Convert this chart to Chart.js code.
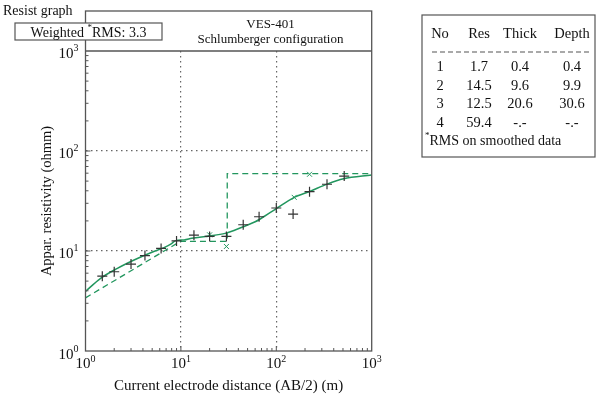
<!DOCTYPE html>
<html><head><meta charset="utf-8">
<script src="https://cdn.jsdelivr.net/npm/chart.js@4/dist/chart.umd.min.js"></script>
<style>html,body{margin:0;padding:0;background:#fff}canvas{display:block}</style>
</head><body>
<canvas id="c" width="600" height="396"></canvas>
<script>
// ---- data ----
const obsX = [1.5, 2, 3, 4.2, 6.2, 9, 13.7, 20, 30, 45, 66, 100, 150, 223, 340, 515];
const obsY = [5.6, 6.2, 7.4, 9.0, 10.6, 12.6, 14.4, 14.0, 14.0, 18.3, 22.0, 26.9, 23.4, 39.2, 46.5, 56.2];
const smoothX = [20, 30, 154, 223];
const smoothY = [14.5, 11.1, 34.4, 58.5];
const modelX = [1, 1.44, 2.16, 3.23, 4.83, 6.66, 7.83, 8.84, 10.8, 13.0, 19.4, 29.1, 37, 47.2, 60.1, 67.8, 101, 151, 227, 340, 507, 1000];
const modelY = [3.94, 5.33, 6.71, 8.13, 9.62, 10.8, 11.7, 12.7, 12.9, 13.4, 14.1, 15.0, 16.2, 17.8, 19.6, 20.9, 26.7, 34.0, 39.6, 46.6, 52.7, 57.5];
const layerX = [1, 9.9, 30.6, 30.6, 1000];
const layerY = [3.4, 12.5, 12.5, 59.4, 59.4];
const decadeTicks = [1, 10, 100, 1000];
const decadeExp = ['0', '1', '2', '3'];
const tableHeader = ['No', 'Res', 'Thick', 'Depth'];
const layerNo = ['1', '2', '3', '4'];
const layerRes = ['1.7', '14.5', '12.5', '59.4'];
const layerThick = ['0.4', '9.6', '20.6', '-.-'];
const layerDepth = ['0.4', '9.9', '30.6', '-.-'];
const titleLines = ['VES-401', 'Schlumberger configuration'];
const xTitle = 'Current electrode distance (AB/2) (m)';
const yTitle = 'Appar. resistivity (ohmm)';
const rmsValue = '3.3';

// ---- styles ----
const SERIF = '"Liberation Serif","DejaVu Serif",serif';
const GREEN = '#22965e';
const FRAME = '#555';

function segText(ctx, segs, x, y, size, align) {
  const supSize = Math.round(size * 0.66);
  let total = 0;
  const ws = segs.map(s => { ctx.font = (s.sup ? supSize : size) + 'px ' + SERIF; const w = ctx.measureText(s.t).width; total += w; return w; });
  let x0 = align === 'right' ? x - total : align === 'center' ? x - total / 2 : x;
  ctx.textAlign = 'left'; ctx.textBaseline = 'alphabetic';
  segs.forEach((s, i) => {
    ctx.font = (s.sup ? supSize : size) + 'px ' + SERIF;
    ctx.fillText(s.t, x0, s.sup ? y - size * 0.43 : y);
    x0 += ws[i];
  });
}
function txt(ctx, t, x, y, size, align) {
  ctx.font = size + 'px ' + SERIF; ctx.textAlign = align; ctx.textBaseline = 'alphabetic';
  ctx.fillText(t, x, y);
}

const deco = {
  id: 'deco',
  afterDraw(chart) {
    const ctx = chart.ctx, xs = chart.scales.x, ys = chart.scales.y, a = chart.chartArea;
    ctx.save();
    ctx.fillStyle = '#111';
    // frame
    const frameTop = 11;
    ctx.strokeStyle = FRAME; ctx.lineWidth = 1.3;
    ctx.strokeRect(a.left, frameTop, a.right - a.left, a.bottom - frameTop);
    ctx.beginPath(); ctx.moveTo(a.left, a.top); ctx.lineTo(a.right, a.top); ctx.stroke();
    // inward ticks
    ctx.lineWidth = 1;
    for (let d = 0; d < 3; d++) {
      for (let m = 1; m <= 9; m++) {
        const v = m * Math.pow(10, d);
        if (v <= 1) continue;
        const len = m === 1 ? 5 : 3;
        const px = xs.getPixelForValue(v), py = ys.getPixelForValue(v);
        ctx.beginPath();
        ctx.moveTo(px, a.bottom); ctx.lineTo(px, a.bottom - len);
        ctx.moveTo(a.left, py); ctx.lineTo(a.left + len, py);
        ctx.stroke();
      }
    }
    // tick labels
    decadeTicks.forEach((v, i) => {
      const px = xs.getPixelForValue(v);
      segText(ctx, [{t: '10'}, {t: decadeExp[i], sup: true}], px, a.bottom + 17, 15, 'center');
      const py = ys.getPixelForValue(v);
      segText(ctx, [{t: '10'}, {t: decadeExp[i], sup: true}], a.left - 7, py + (i === 0 ? 7.5 : 6.5), 15, 'right');
    });
    // axis titles
    txt(ctx, xTitle, (a.left + a.right) / 2, 390, 15, 'center');
    ctx.save(); ctx.translate(50.5, (a.top + a.bottom) / 2); ctx.rotate(-Math.PI / 2);
    txt(ctx, yTitle, 0, 0, 14.5, 'center'); ctx.restore();
    // header text
    txt(ctx, 'Resist graph', 3, 14.5, 14, 'left');
    txt(ctx, titleLines[0], 270.5, 28.3, 13, 'center');
    txt(ctx, titleLines[1], 270.5, 43, 13, 'center');
    // weighted RMS box
    ctx.fillStyle = '#fff'; ctx.fillRect(15, 23, 147, 17);
    ctx.strokeStyle = FRAME; ctx.lineWidth = 1.2; ctx.strokeRect(15, 23, 147, 17);
    ctx.fillStyle = '#111';
    segText(ctx, [{t: 'Weighted '}, {t: '*', sup: true}, {t: 'RMS: ' + rmsValue}], 88.5, 36.5, 14, 'center');
    // table
    ctx.strokeStyle = FRAME; ctx.lineWidth = 1.2;
    ctx.strokeRect(422, 15, 173, 142);
    const cols = [440, 479, 520, 572];
    tableHeader.forEach((h, i) => txt(ctx, h, cols[i], 38, 14.5, 'center'));
    ctx.setLineDash([5, 3]); ctx.beginPath(); ctx.moveTo(432, 52); ctx.lineTo(591, 52); ctx.stroke(); ctx.setLineDash([]);
    const rowY = [71, 89.5, 108, 126.5];
    layerNo.forEach((n, r) => {
      txt(ctx, n, cols[0], rowY[r], 14.5, 'center');
      txt(ctx, layerRes[r], cols[1], rowY[r], 14.5, 'center');
      txt(ctx, layerThick[r], cols[2], rowY[r], 14.5, 'center');
      txt(ctx, layerDepth[r], cols[3], rowY[r], 14.5, 'center');
    });
    segText(ctx, [{t: '*', sup: true}, {t: 'RMS on smoothed data'}], 425, 144.5, 14, 'left');
    ctx.restore();
  }
};

function isInnerDecade(v) {
  const l = Math.log10(v);
  return Math.abs(l - Math.round(l)) < 1e-6 && v > 1 && v < 1000;
}
const gridColor = c => (c.tick && isInnerDecade(c.tick.value)) ? '#666' : 'rgba(0,0,0,0)';

const pts = (xs, ys) => xs.map((x, i) => ({x: x, y: ys[i]}));

new Chart(document.getElementById('c'), {
  type: 'scatter',
  data: {datasets: [
    {label: 'layers', data: pts(layerX, layerY), showLine: true, borderColor: GREEN, borderWidth: 1.3, borderDash: [6, 4], pointRadius: 0, fill: false, order: 3},
    {label: 'model', data: pts(modelX, modelY), showLine: true, borderColor: GREEN, borderWidth: 1.5, pointRadius: 0, cubicInterpolationMode: 'monotone', fill: false, order: 2},
    {label: 'smoothed', data: pts(smoothX, smoothY), showLine: false, pointStyle: 'crossRot', pointRadius: 3.5, borderColor: GREEN, borderWidth: 1, order: 1},
    {label: 'observed', data: pts(obsX, obsY), showLine: false, pointStyle: 'cross', pointRadius: 5, borderColor: '#333', borderWidth: 1.2, order: 0}
  ]},
  options: {
    responsive: false, animation: false, devicePixelRatio: 1,
    layout: {padding: {left: 85.5, top: 51, right: 228.3, bottom: 45}},
    plugins: {legend: {display: false}, tooltip: {enabled: false}},
    scales: {
      x: {type: 'logarithmic', min: 1, max: 1000, ticks: {display: false},
          grid: {drawTicks: false, color: gridColor, lineWidth: 1.2}, border: {display: false, dash: [1.5, 3.5]},
          afterFit(s) { s.height = 0; }},
      y: {type: 'logarithmic', min: 1, max: 1000, ticks: {display: false},
          grid: {drawTicks: false, color: gridColor, lineWidth: 1.2}, border: {display: false, dash: [1.5, 3.5]},
          afterFit(s) { s.width = 0; }}
    }
  },
  plugins: [deco]
});
</script>
</body></html>
